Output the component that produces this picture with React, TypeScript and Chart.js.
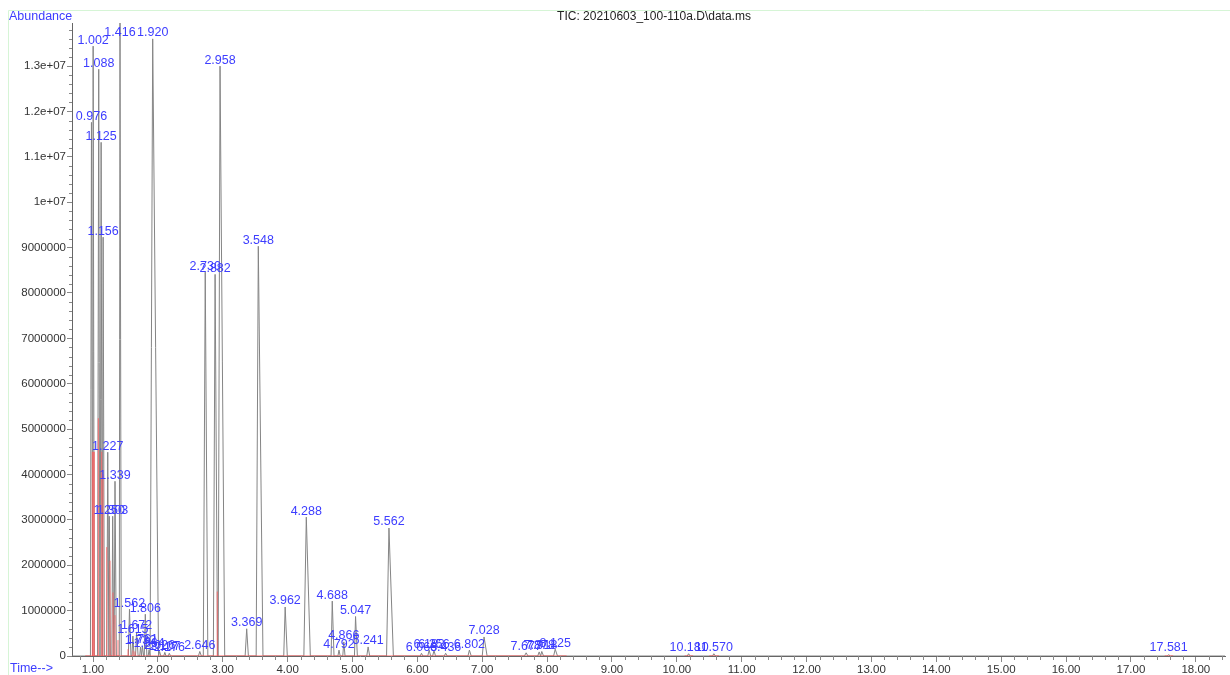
import React, { useEffect, useRef } from "react";
import { Chart, registerables } from "chart.js";

Chart.register(...registerables);

const chartTitle = "TIC: 20210603_100-110a.D\\data.ms";
const yAxisLabel = "Abundance";
const xAxisLabel = "Time-->";

// Retention times (min) of labelled peaks
const peakTimes = [
  0.976, 1.002, 1.088, 1.125, 1.156, 1.227, 1.25, 1.303, 1.339, 1.416,
  1.562, 1.615, 1.672, 1.732, 1.761, 1.806, 1.864, 1.92, 2.026, 2.107,
  2.176, 2.646, 2.73, 2.882, 2.958, 3.369, 3.548, 3.962, 4.288, 4.688,
  4.792, 4.866, 5.047, 5.241, 5.562, 6.063, 6.182, 6.256, 6.436, 6.802,
  7.028, 7.677, 7.878, 7.918, 8.125, 10.181, 10.57, 17.581,
];
// Apex abundance of each peak
const peakHeights = [
  11.76e6, 13.44e6, 12.93e6, 11.32e6, 9.23e6, 4.49e6, 3.08e6, 3.08e6, 3.85e6, 13.95e6,
  1.03e6, 0.44e6, 0.53e6, 0.2e6, 0.22e6, 0.92e6, 0.14e6, 13.6e6, 0.1e6, 0.08e6,
  0.06e6, 0.1e6, 8.46e6, 8.41e6, 13.0e6, 0.6e6, 9.03e6, 1.08e6, 3.06e6, 1.21e6,
  0.13e6, 0.31e6, 0.87e6, 0.2e6, 2.82e6, 0.06e6, 0.13e6, 0.12e6, 0.06e6, 0.13e6,
  0.42e6, 0.07e6, 0.09e6, 0.1e6, 0.15e6, 0.05e6, 0.05e6, 0.03e6,
];
// Where each peak leaves / returns to the baseline (min)
const peakStarts = [
  0.96, 0.99, 1.07, 1.11, 1.142, 1.212, 1.24, 1.29, 1.325, 1.405,
  1.545, 1.6, 1.655, 1.72, 1.75, 1.79, 1.85, 1.89, 2.01, 2.09,
  2.16, 2.625, 2.7, 2.855, 2.93, 3.345, 3.515, 3.94, 4.25, 4.67,
  4.775, 4.85, 5.03, 5.22, 5.525, 6.045, 6.16, 6.235, 6.415, 6.78,
  7.0, 7.65, 7.855, 7.9, 8.1, 10.16, 10.55, 17.56,
];
const peakEnds = [
  0.995, 1.02, 1.105, 1.142, 1.175, 1.245, 1.268, 1.32, 1.36, 1.435,
  1.585, 1.632, 1.695, 1.748, 1.78, 1.83, 1.88, 2.01, 2.045, 2.125,
  2.195, 2.67, 2.77, 2.92, 3.03, 3.395, 3.62, 3.995, 4.35, 4.715,
  4.81, 4.885, 5.075, 5.265, 5.63, 6.085, 6.205, 6.28, 6.46, 6.83,
  7.075, 7.705, 7.9, 7.945, 8.16, 10.205, 10.595, 17.605,
];

// Red integration drop lines
const dropTimes = [0.99, 1.005, 1.02, 1.082, 1.134, 1.154, 1.211, 1.262, 1.308, 1.339, 1.385, 1.54, 1.616, 1.647, 2.915];
const dropHeights = [4.5e6, 4.5e6, 4.5e6, 5.24e6, 4.5e6, 4.0e6, 2.4e6, 2.1e6, 1.4e6, 0.9e6, 0.35e6, 0.15e6, 0.12e6, 0.1e6, 1.42e6];

// Red integration baselines
const baseStarts = [0.88, 10.12, 10.5, 17.52];
const baseEnds = [8.3, 10.25, 10.65, 17.65];

const xTicks = [1, 2, 3, 4, 5, 6, 7, 8, 9, 10, 11, 12, 13, 14, 15, 16, 17, 18];
const yTicks = [0, 1e6, 2e6, 3e6, 4e6, 5e6, 6e6, 7e6, 8e6, 9e6, 10e6, 11e6, 12e6, 13e6];

const X_MIN = 0.676;
const X_MAX = 18.45;
const Y_MAX = 13.95e6;

const FONT = '"Liberation Sans", Arial, Helvetica, sans-serif';
const BLUE = "#3d3dff";

function formatY(v: number): string {
  if (v === 0) return "0";
  if (v < 1e7) return String(Math.round(v));
  return String(Math.round((v / 1e7) * 10) / 10) + "e+07";
}

const decorPlugin = {
  id: "decor",
  beforeDraw(chart: any) {
    const ctx = chart.ctx;
    ctx.save();
    ctx.fillStyle = "#ffffff";
    ctx.fillRect(0, 0, chart.width, chart.height);
    ctx.strokeStyle = "#d6f5d6";
    ctx.lineWidth = 1;
    ctx.beginPath();
    ctx.moveTo(8.5, chart.height);
    ctx.lineTo(8.5, 10.5);
    ctx.lineTo(chart.width, 10.5);
    ctx.stroke();
    ctx.restore();
  },
  afterDatasetsDraw(chart: any) {
    const ctx = chart.ctx;
    const xs = chart.scales.x;
    const ys = chart.scales.y;
    ctx.save();
    ctx.font = `12.5px ${FONT}`;
    ctx.fillStyle = BLUE;
    ctx.textAlign = "center";
    ctx.textBaseline = "middle";
    for (let i = 0; i < peakTimes.length; i++) {
      const px = xs.getPixelForValue(peakTimes[i]);
      let py = ys.getPixelForValue(peakHeights[i]) - 6;
      py = Math.max(33, Math.min(648, py));
      ctx.fillText(peakTimes[i].toFixed(3), px, py);
    }
    ctx.restore();
  },
  afterDraw(chart: any) {
    const ctx = chart.ctx;
    const xs = chart.scales.x;
    const ys = chart.scales.y;
    const area = chart.chartArea;
    ctx.save();
    ctx.strokeStyle = "#888";
    ctx.lineWidth = 1;
    ctx.beginPath();
    for (let k = 4; k <= 92; k++) {
      if (k % 5 === 0) continue;
      const v = k / 5;
      if (v < X_MIN || v > X_MAX) continue;
      const px = Math.round(xs.getPixelForValue(v)) + 0.5;
      ctx.moveTo(px, area.bottom);
      ctx.lineTo(px, area.bottom + 4);
    }
    for (let k = 1; k <= 69; k++) {
      if (k % 5 === 0) continue;
      const v = k * 0.2e6;
      if (v > Y_MAX) continue;
      const py = Math.round(ys.getPixelForValue(v)) + 0.5;
      ctx.moveTo(area.left, py);
      ctx.lineTo(area.left - 3, py);
    }
    ctx.stroke();

    ctx.fillStyle = "#222";
    ctx.font = `12px ${FONT}`;
    ctx.textAlign = "center";
    ctx.textBaseline = "middle";
    ctx.fillText(chartTitle, 654, 17);

    ctx.fillStyle = BLUE;
    ctx.font = `12.5px ${FONT}`;
    ctx.textAlign = "left";
    ctx.fillText(yAxisLabel, 9, 17);
    ctx.fillText(xAxisLabel, 10, 669);
    ctx.restore();
  },
};

export default function App() {
  const canvasRef = useRef<HTMLCanvasElement | null>(null);

  useEffect(() => {
    if (!canvasRef.current) return;

    const order = peakTimes.map((_, i) => i).sort((a, b) => peakStarts[a] - peakStarts[b]);
    const trace: any[] = [{ x: X_MIN, y: 0 }];
    order.forEach((i) => {
      trace.push({ x: peakStarts[i], y: 0 });
      trace.push({ x: peakTimes[i], y: peakHeights[i] });
      trace.push({ x: peakEnds[i], y: 0 });
    });
    trace.push({ x: X_MAX, y: 0 });

    const drops: any[] = [];
    dropTimes.forEach((t, i) => {
      drops.push({ x: t, y: 0 });
      drops.push({ x: t, y: dropHeights[i] });
      drops.push({ x: t, y: null });
    });

    const bases: any[] = [];
    baseStarts.forEach((s, i) => {
      bases.push({ x: s, y: 0 });
      bases.push({ x: baseEnds[i], y: 0 });
      bases.push({ x: baseEnds[i], y: null });
    });

    const chart = new Chart(canvasRef.current, {
      type: "line",
      data: {
        datasets: [
          {
            label: "drops",
            data: drops,
            borderColor: "rgba(255,90,90,0.8)",
            borderWidth: 1,
            pointRadius: 0,
            spanGaps: false,
            tension: 0,
          },
          {
            label: "baseline",
            data: bases,
            borderColor: "rgba(255,80,80,0.9)",
            borderWidth: 1.2,
            pointRadius: 0,
            spanGaps: false,
            tension: 0,
          },
          {
            label: "TIC",
            data: trace,
            borderColor: "#858585",
            borderWidth: 1,
            pointRadius: 0,
            tension: 0,
          },
        ],
      },
      options: {
        animation: false,
        responsive: true,
        maintainAspectRatio: false,
        parsing: true,
        layout: { padding: { top: 23, right: 5, left: 0, bottom: 0 } },
        plugins: {
          legend: { display: false },
          title: { display: false },
          tooltip: { enabled: false },
        },
        scales: {
          x: {
            type: "linear",
            min: X_MIN,
            max: X_MAX,
            afterBuildTicks: (s: any) => {
              s.ticks = xTicks.map((v) => ({ value: v }));
            },
            afterFit: (s: any) => {
              s.height = 19;
            },
            ticks: {
              autoSkip: false,
              maxRotation: 0,
              minRotation: 0,
              color: "#333",
              padding: 1,
              font: { family: FONT, size: 11.5 },
              callback: (v: any) => Number(v).toFixed(2),
            },
            grid: {
              drawOnChartArea: false,
              drawTicks: true,
              tickLength: 6,
              tickColor: "#888",
            },
            border: { display: true, color: "#666", width: 1 },
          },
          y: {
            type: "linear",
            min: 0,
            max: Y_MAX,
            afterBuildTicks: (s: any) => {
              s.ticks = yTicks.map((v) => ({ value: v }));
            },
            afterFit: (s: any) => {
              s.width = 72;
            },
            ticks: {
              autoSkip: false,
              color: "#333",
              padding: 1,
              font: { family: FONT, size: 11.5 },
              callback: (v: any) => formatY(Number(v)),
            },
            grid: {
              drawOnChartArea: false,
              drawTicks: true,
              tickLength: 5,
              tickColor: "#888",
            },
            border: { display: true, color: "#666", width: 1 },
          },
        },
      },
      plugins: [decorPlugin],
    });

    return () => chart.destroy();
  }, []);

  return (
    <div style={{ position: "absolute", left: 0, top: 0, width: 1230, height: 675, background: "#fff" }}>
      <canvas ref={canvasRef} />
    </div>
  );
}
